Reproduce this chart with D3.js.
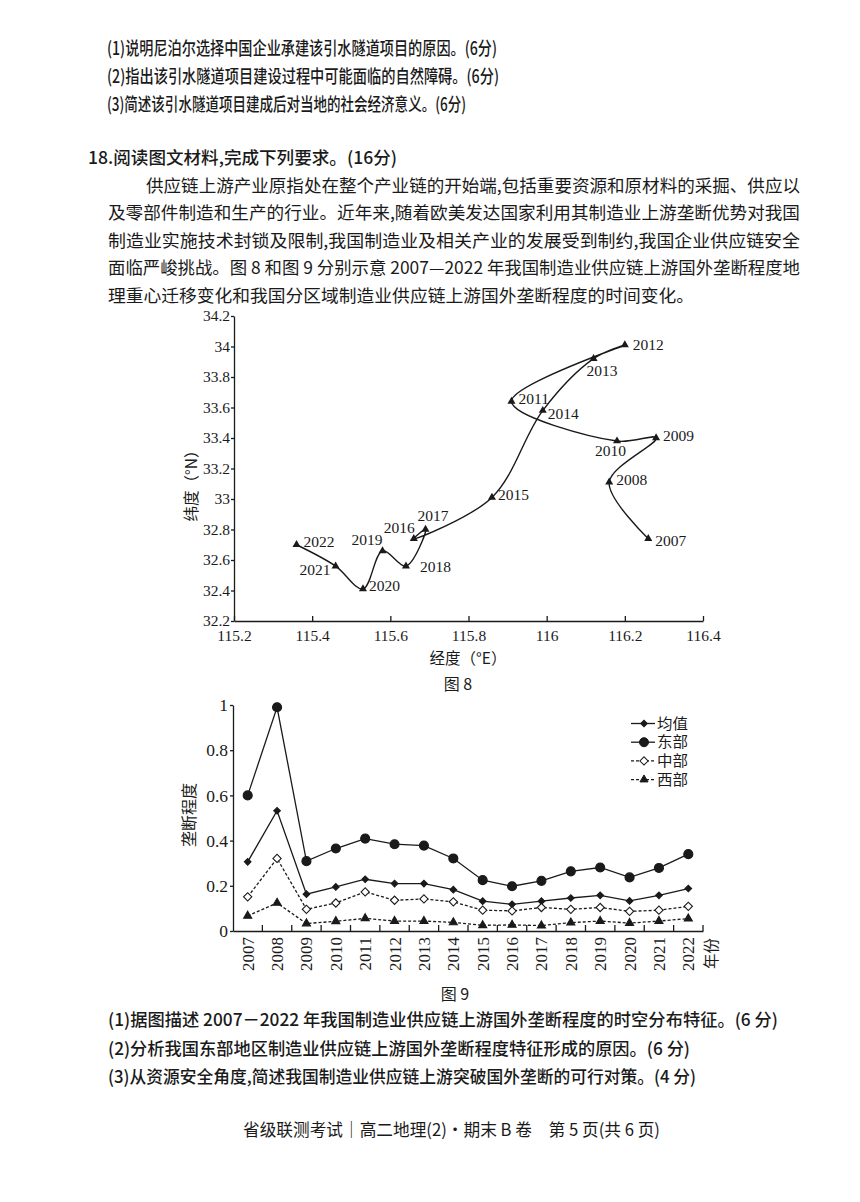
<!DOCTYPE html>
<html><head><meta charset="utf-8">
<script src="https://cdn.jsdelivr.net/npm/d3@7"></script>
<style>
html,body{margin:0;padding:0;background:#fff;}
svg{display:block;}
.cjk{font-family:"Noto Sans CJK SC","Noto Sans",sans-serif;fill:#1a1a1a;}
.num{font-family:"Liberation Serif","DejaVu Serif",serif;fill:#1a1a1a;}
</style></head>
<body>
<svg id="page" width="860" height="1202"></svg>
<script>
// ---------------- text content ----------------
const topQuestions = [
  "(1)说明尼泊尔选择中国企业承建该引水隧道项目的原因。(6分)",
  "(2)指出该引水隧道项目建设过程中可能面临的自然障碍。(6分)",
  "(3)简述该引水隧道项目建成后对当地的社会经济意义。(6分)"
];
const heading = "18.阅读图文材料,完成下列要求。(16分)";
const paragraph = [
  "供应链上游产业原指处在整个产业链的开始端,包括重要资源和原材料的采掘、供应以",
  "及零部件制造和生产的行业。近年来,随着欧美发达国家利用其制造业上游垄断优势对我国",
  "制造业实施技术封锁及限制,我国制造业及相关产业的发展受到制约,我国企业供应链安全",
  "面临严峻挑战。图 8 和图 9 分别示意 2007—2022 年我国制造业供应链上游国外垄断程度地",
  "理重心迁移变化和我国分区域制造业供应链上游国外垄断程度的时间变化。"
];
const bottomQuestions = [
  "(1)据图描述 2007－2022 年我国制造业供应链上游国外垄断程度的时空分布特征。(6 分)",
  "(2)分析我国东部地区制造业供应链上游国外垄断程度特征形成的原因。(6 分)",
  "(3)从资源安全角度,简述我国制造业供应链上游突破国外垄断的可行对策。(4 分)"
];
const footer = "省级联测考试｜高二地理(2)·期末 B 卷　第 5 页(共 6 页)";

// ---------------- Figure 8 data ----------------
const fig8Years = [2007,2008,2009,2010,2011,2012,2013,2014,2015,2016,2017,2018,2019,2020,2021,2022];
const fig8Lon = [116.26,116.16,116.28,116.18,115.91,116.20,116.12,115.99,115.86,115.66,115.69,115.64,115.58,115.53,115.46,115.36];
const fig8Lat = [32.74,33.11,33.40,33.38,33.64,34.01,33.92,33.58,33.01,32.74,32.80,32.56,32.66,32.41,32.56,32.70];
const fig8LonTicks = [115.2,115.4,115.6,115.8,116,116.2,116.4];
const fig8LatTicks = [32.2,32.4,32.6,32.8,33,33.2,33.4,33.6,33.8,34,34.2];

// ---------------- Figure 9 data ----------------
const fig9Years = ["2007","2008","2009","2010","2011","2012","2013","2014","2015","2016","2017","2018","2019","2020","2021","2022"];
const meanVals = [0.306,0.532,0.163,0.195,0.229,0.21,0.21,0.183,0.132,0.118,0.132,0.146,0.158,0.133,0.158,0.188];
const eastVals = [0.60,0.99,0.309,0.365,0.409,0.384,0.378,0.321,0.225,0.198,0.222,0.264,0.281,0.237,0.279,0.340];
const centralVals = [0.151,0.321,0.096,0.124,0.173,0.136,0.142,0.129,0.092,0.089,0.104,0.096,0.104,0.087,0.092,0.109];
const westVals = [0.067,0.124,0.033,0.043,0.056,0.044,0.044,0.038,0.025,0.027,0.024,0.037,0.044,0.035,0.044,0.055];
const fig9Ticks = [0,0.2,0.4,0.6,0.8,1];
const seriesNames = ["均值","东部","中部","西部"];

// ---------------- drawing ----------------
const svg = d3.select("#page");
svg.append("rect").attr("width",860).attr("height",1202).attr("fill","#fff");

function textLine(str, x, y, w, size, weight){
  svg.append("text").attr("class","cjk").attr("x",x).attr("y",y)
    .attr("font-size",size).attr("font-weight",weight||400)
    .attr("textLength",w).attr("lengthAdjust","spacingAndGlyphs")
    .text(str);
}
[[107,55,390],[107,83,392],[107,111,359]].forEach((p,i)=>textLine(topQuestions[i],p[0],p[1],p[2],18,500));
textLine(heading,88,164,309,17.5,500);
const paraPos = [[146,192,654],[108,219,692],[108,247,692],[108,274,692],[108,302,586]];
paraPos.forEach((p,i)=>textLine(paragraph[i],p[0],p[1],p[2],17.5,400));
const bqPos = [[108,1026,670],[108,1055,582],[108,1083,588]];
bqPos.forEach((p,i)=>textLine(bottomQuestions[i],p[0],p[1],p[2],17.5,500));
textLine(footer,243,1136,417,17,400);

// ---------- Figure 8 ----------
const g8 = svg.append("g");
const x8 = d3.scaleLinear().domain([115.2,116.4]).range([234,703]);
const y8 = d3.scaleLinear().domain([32.2,34.2]).range([621,316]);
const fmt = d => String(+d.toFixed(1));

const ax8 = g8.append("g").attr("transform","translate(0,621)")
  .call(d3.axisBottom(x8).tickValues(fig8LonTicks).tickFormat(fmt).tickSizeInner(-5).tickSizeOuter(0).tickPadding(9));
const ay8 = g8.append("g").attr("transform","translate(234,0)")
  .call(d3.axisLeft(y8).tickValues(fig8LatTicks).tickFormat(fmt).tickSizeInner(3).tickSizeOuter(0).tickPadding(1));
[ax8,ay8].forEach(a=>{
  a.selectAll("path,line").attr("stroke","#1a1a1a").attr("stroke-width",1.3);
  a.selectAll("text").attr("class","num").attr("font-size",15.5).attr("fill","#1a1a1a");
});

const pts8 = fig8Years.map((yr,i)=>({yr,lon:fig8Lon[i],lat:fig8Lat[i]}));
g8.append("path").datum(pts8)
  .attr("d", d3.line().x(d=>x8(d.lon)).y(d=>y8(d.lat)).curve(d3.curveCatmullRom.alpha(0.5)))
  .attr("fill","none").attr("stroke","#1a1a1a").attr("stroke-width",1.4);
g8.selectAll(".tri").data(pts8).join("path")
  .attr("transform",d=>`translate(${x8(d.lon)},${y8(d.lat)})`)
  .attr("d", d3.symbol().type(d3.symbolTriangle).size(28))
  .attr("fill","#1a1a1a");
// label placement (style only): dx, dy, anchor
const lab8 = {2007:[7,2,"start"],2008:[7,-3,"start"],2009:[7,-2,"start"],2010:[-22,10,"start"],
  2011:[7,-3,"start"],2012:[8,0,"start"],2013:[-7,12,"start"],2014:[5,3,"start"],2015:[6,-3,"start"],
  2016:[1,-11,"end"],2017:[-8,-14,"start"],2018:[14,0,"start"],2019:[0,-11,"end"],
  2020:[6,-3,"start"],2021:[-5,3,"end"],2022:[7,-3,"start"]};
g8.selectAll(".lab").data(pts8).join("text")
  .attr("class","num").attr("font-size",15.5)
  .attr("x",d=>x8(d.lon)+lab8[d.yr][0]).attr("y",d=>y8(d.lat)+lab8[d.yr][1])
  .attr("dy","0.35em").attr("text-anchor",d=>lab8[d.yr][2]).text(d=>d.yr);

g8.append("text").attr("class","cjk").attr("font-size",15.5).attr("text-anchor","middle")
  .attr("transform","translate(197,482) rotate(-90)").text("纬度（°N）");
g8.append("text").attr("class","cjk").attr("font-size",15.5).attr("text-anchor","middle")
  .attr("x",468).attr("y",664).text("经度（°E）");
g8.append("text").attr("class","cjk").attr("font-size",16).attr("text-anchor","middle")
  .attr("x",458).attr("y",690).text("图 8");

// ---------- Figure 9 ----------
const g9 = svg.append("g");
const x9 = d3.scaleBand().domain(fig9Years).range([233,703]);
const y9 = d3.scaleLinear().domain([0,1]).range([931,705]);
const cx = d => x9(d)+x9.bandwidth()/2;

const ay9 = g9.append("g").attr("transform","translate(233,0)")
  .call(d3.axisLeft(y9).tickValues(fig9Ticks).tickFormat(d=>String(d)).tickSizeInner(3).tickSizeOuter(0).tickPadding(2));
ay9.selectAll("path,line").attr("stroke","#1a1a1a").attr("stroke-width",1.3);
ay9.selectAll("text").attr("class","num").attr("font-size",17.5).attr("fill","#1a1a1a");

const ax9 = g9.append("g").attr("transform","translate(0,931)")
  .call(d3.axisBottom(x9).tickSize(0).tickSizeOuter(0).tickFormat(""));
ax9.selectAll("path").attr("stroke","#1a1a1a").attr("stroke-width",1.3);
g9.selectAll(".btick").data(fig9Years).join("line")
  .attr("x1",d=>x9(d)+x9.bandwidth()).attr("x2",d=>x9(d)+x9.bandwidth())
  .attr("y1",931).attr("y2",925).attr("stroke","#1a1a1a").attr("stroke-width",1.3);
g9.selectAll(".ylab").data(fig9Years).join("text")
  .attr("class","num").attr("font-size",17).attr("text-anchor","end")
  .attr("transform",d=>`translate(${cx(d)+6},937) rotate(-90)`).text(d=>d);
g9.append("text").attr("class","cjk").attr("font-size",15.5).attr("text-anchor","end")
  .attr("transform","translate(717,938) rotate(-90)").text("年份");

const series = [
  {name:seriesNames[0], vals:meanVals, sym:d3.symbolSquare, rot:45, size:22, fill:"#1a1a1a", dash:null},
  {name:seriesNames[1], vals:eastVals, sym:d3.symbolCircle, rot:0, size:64, fill:"#1a1a1a", dash:null},
  {name:seriesNames[2], vals:centralVals, sym:d3.symbolSquare, rot:45, size:34, fill:"#fff", dash:"3,2"},
  {name:seriesNames[3], vals:westVals, sym:d3.symbolTriangle, rot:0, size:28, fill:"#1a1a1a", dash:"3,2"}
];
const line9 = d3.line().x((d,i)=>cx(fig9Years[i])).y(d=>y9(d));
series.forEach(s=>{
  g9.append("path").datum(s.vals).attr("d",line9).attr("fill","none")
    .attr("stroke","#1a1a1a").attr("stroke-width",1.3).attr("stroke-dasharray",s.dash);
  g9.selectAll(null).data(s.vals).join("path")
    .attr("transform",(d,i)=>`translate(${cx(fig9Years[i])},${y9(d)}) rotate(${s.rot})`)
    .attr("d",d3.symbol().type(s.sym).size(s.size))
    .attr("fill",s.fill).attr("stroke","#1a1a1a").attr("stroke-width",1.1);
});
// legend
const leg = g9.append("g");
series.forEach((s,i)=>{
  const yy = 723.5 + i*18.7;
  leg.append("line").attr("x1",631).attr("x2",655).attr("y1",yy).attr("y2",yy)
    .attr("stroke","#1a1a1a").attr("stroke-width",1.3).attr("stroke-dasharray",s.dash);
  leg.append("path").attr("transform",`translate(644,${yy}) rotate(${s.rot})`)
    .attr("d",d3.symbol().type(s.sym).size(s.size))
    .attr("fill",s.fill).attr("stroke","#1a1a1a").attr("stroke-width",1);
  leg.append("text").attr("class","cjk").attr("font-size",14.5).attr("x",657).attr("y",yy).attr("dy","0.36em")
    .attr("textLength",31).attr("lengthAdjust","spacingAndGlyphs").text(s.name);
});
g9.append("text").attr("class","cjk").attr("font-size",16).attr("text-anchor","middle")
  .attr("transform","translate(195,815) rotate(-90)").text("垄断程度");
g9.append("text").attr("class","cjk").attr("font-size",16).attr("text-anchor","middle")
  .attr("x",455).attr("y",1000).text("图 9");
</script>
</body></html>
